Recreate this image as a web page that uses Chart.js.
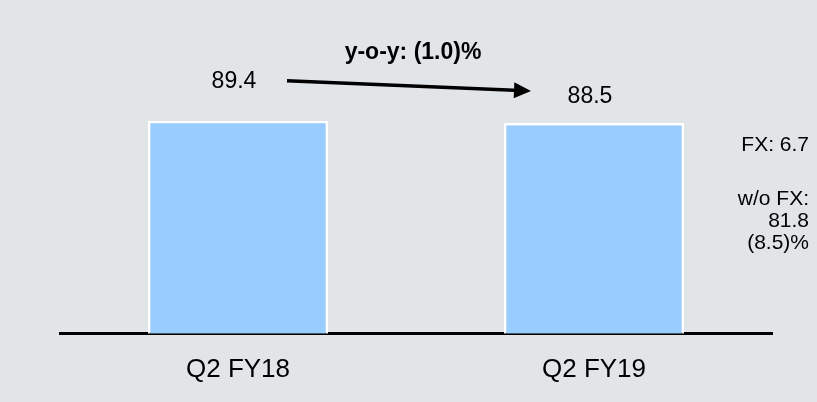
<!DOCTYPE html>
<html>
<head>
<meta charset="utf-8">
<script src="https://cdn.jsdelivr.net/npm/chart.js@4.4.0/dist/chart.umd.min.js"></script>
<style>
  html, body { margin: 0; padding: 0; background: #e1e5e8; }
  #wrap { width: 817px; height: 402px; }
</style>
</head>
<body>
<div id="wrap"><canvas id="rev-chart" width="817" height="402"></canvas></div>
<script>
// Quarterly figures
const quarters = ['Q2 FY18', 'Q2 FY19'];
const revenue = [89.4, 88.5];
const yoyLabel = 'y-o-y: (1.0)%';
const fxNotes = ['FX: 6.7', '', 'w/o FX:', '81.8', '(8.5)%'];

const FONT = '"Liberation Sans", Arial, sans-serif';

// draws the value labels, y-o-y arrow and FX notes
const annotations = {
    id: 'annotations',
    afterDatasetsDraw(chart) {
        const ctx = chart.ctx;
        const bars = chart.getDatasetMeta(0).data;
        const lift = [39, 26];

        ctx.save();
        ctx.fillStyle = '#000';
        ctx.textBaseline = 'middle';

        // value labels above bars
        ctx.font = '23px ' + FONT;
        ctx.textAlign = 'center';
        bars.forEach((bar, i) => {
            ctx.fillText(revenue[i].toFixed(1), bar.x - 4, bar.y - lift[i]);
        });

        // arrow between labels
        const x0 = bars[0].x + 49, y0 = bars[0].y - 40;
        const x1 = bars[1].x - 63, y1 = bars[1].y - 32;
        const ang = Math.atan2(y1 - y0, x1 - x0);
        const headLen = 17, headW = 8;
        const bx = x1 - headLen * Math.cos(ang), by = y1 - headLen * Math.sin(ang);
        ctx.strokeStyle = '#000';
        ctx.lineWidth = 3.5;
        ctx.beginPath();
        ctx.moveTo(x0, y0);
        ctx.lineTo(bx, by);
        ctx.stroke();
        ctx.beginPath();
        ctx.moveTo(x1, y1);
        ctx.lineTo(bx + headW * Math.sin(ang), by - headW * Math.cos(ang));
        ctx.lineTo(bx - headW * Math.sin(ang), by + headW * Math.cos(ang));
        ctx.closePath();
        ctx.fill();

        // y-o-y text
        ctx.font = 'bold 23px ' + FONT;
        ctx.fillText(yoyLabel, (bars[0].x + bars[1].x) / 2 - 3, chart.chartArea.top + 29);

        // FX notes on the right
        ctx.font = '21px ' + FONT;
        ctx.textAlign = 'right';
        let y = bars[1].y + 22;
        fxNotes.forEach((line, i) => {
            if (line) ctx.fillText(line, chart.width - 8, y);
            y += (i === 0) ? 32 : 22;
        });
        ctx.restore();
    }
};

new Chart(document.getElementById('rev-chart'), {
    type: 'bar',
    data: {
        labels: quarters,
        datasets: [{
            data: revenue,
            backgroundColor: '#99ccff',
            borderColor: '#ffffff',
            borderWidth: 2.5,
            categoryPercentage: 1,
            barPercentage: 0.506
        }]
    },
    options: {
        responsive: false,
        animation: false,
        layout: {
            padding: { top: 24, left: 60, right: 45, bottom: -3 }
        },
        plugins: {
            legend: { display: false },
            tooltip: { enabled: false }
        },
        scales: {
            y: {
                display: false,
                min: 0,
                max: 130
            },
            x: {
                grid: { display: false, drawTicks: false },
                border: { display: true, color: '#000', width: 3 },
                ticks: {
                    color: '#000',
                    padding: 20,
                    font: { family: FONT, size: 26 }
                }
            }
        }
    },
    plugins: [annotations]
});
</script>
</body>
</html>
